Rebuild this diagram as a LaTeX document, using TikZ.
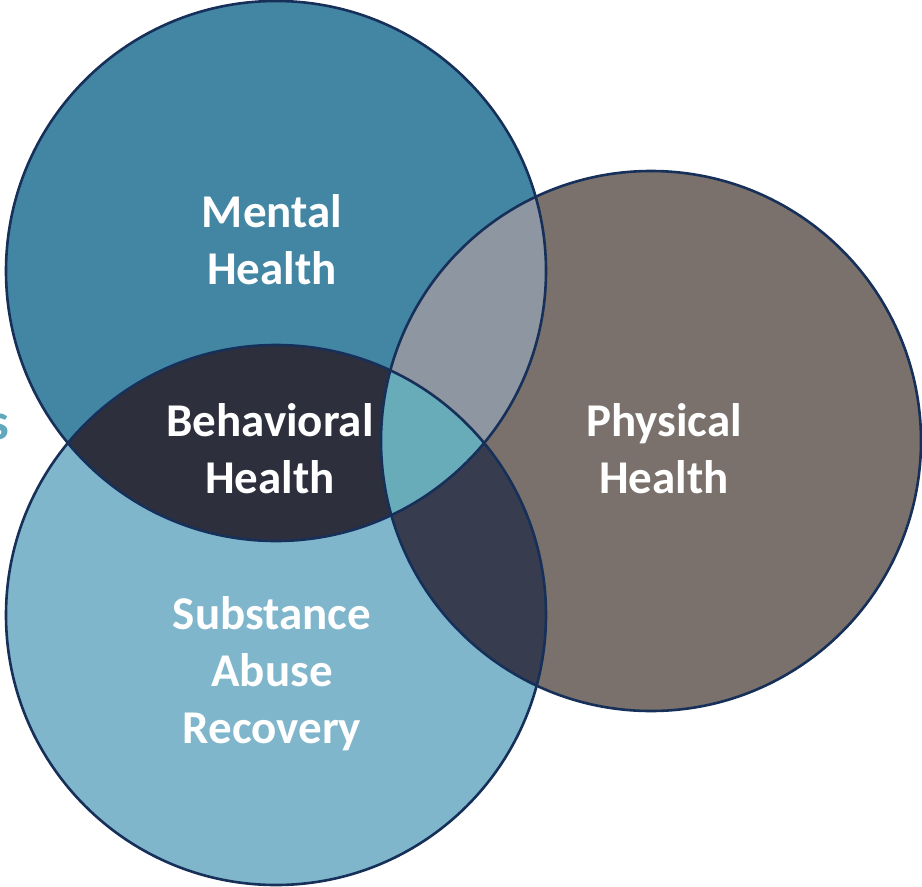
\documentclass[tikz,border=0pt]{standalone}
\usepackage{fontspec}
\setmainfont{Carlito}
\definecolor{mhc}{HTML}{4386A4}
\definecolor{sac}{HTML}{80B6CB}
\definecolor{phc}{HTML}{7A716C}
\definecolor{mhsa}{HTML}{2E2F3D}
\definecolor{mhph}{HTML}{8D96A1}
\definecolor{saph}{HTML}{373D4F}
\definecolor{allc}{HTML}{68ABB9}
\definecolor{edgec}{HTML}{16305A}
\definecolor{stray}{HTML}{62A8BC}
\tikzset{
  lbl/.style={text=white, font=\bfseries\fontsize{47}{57}\selectfont, align=center, inner sep=0pt},
  ring/.style={draw=edgec, line width=2.6pt}
}
\begin{document}
\begin{tikzpicture}[x=1pt,y=-1pt]
\useasboundingbox (0,0) rectangle (922,887);
\coordinate (cm) at (276,271);
\coordinate (cs) at (276,615);
\coordinate (cp) at (651,441);
\def\R{270pt}
% base fills
\fill[mhc] (cm) circle[radius=\R];
\fill[sac] (cs) circle[radius=\R];
\fill[phc] (cp) circle[radius=\R];
% pairwise overlaps
\begin{scope}
  \clip (cm) circle[radius=\R];
  \fill[mhsa] (cs) circle[radius=\R];
  \fill[mhph] (cp) circle[radius=\R];
\end{scope}
\begin{scope}
  \clip (cs) circle[radius=\R];
  \fill[saph] (cp) circle[radius=\R];
\end{scope}
\begin{scope}
  \clip (cm) circle[radius=\R];
  \clip (cs) circle[radius=\R];
  \fill[allc] (cp) circle[radius=\R];
\end{scope}
% outlines
\draw[ring] (cm) circle[radius=\R];
\draw[ring] (cs) circle[radius=\R];
\draw[ring] (cp) circle[radius=\R];
% labels
\node[lbl] (mental) at (272,240) {Mental\\Health};
\node[lbl] (behav) at (270,449) {Behavioral\\Health};
\node[lbl] (phys) at (664,449) {Physical\\Health};
\node[lbl] (subst) at (272,674) {Substance\\Abuse\\Recovery};
\node[text=stray, font=\bfseries\fontsize{52}{60}\selectfont, inner sep=0pt, anchor=east] (frag) at (9.5,427) {s};
\end{tikzpicture}
\end{document}
